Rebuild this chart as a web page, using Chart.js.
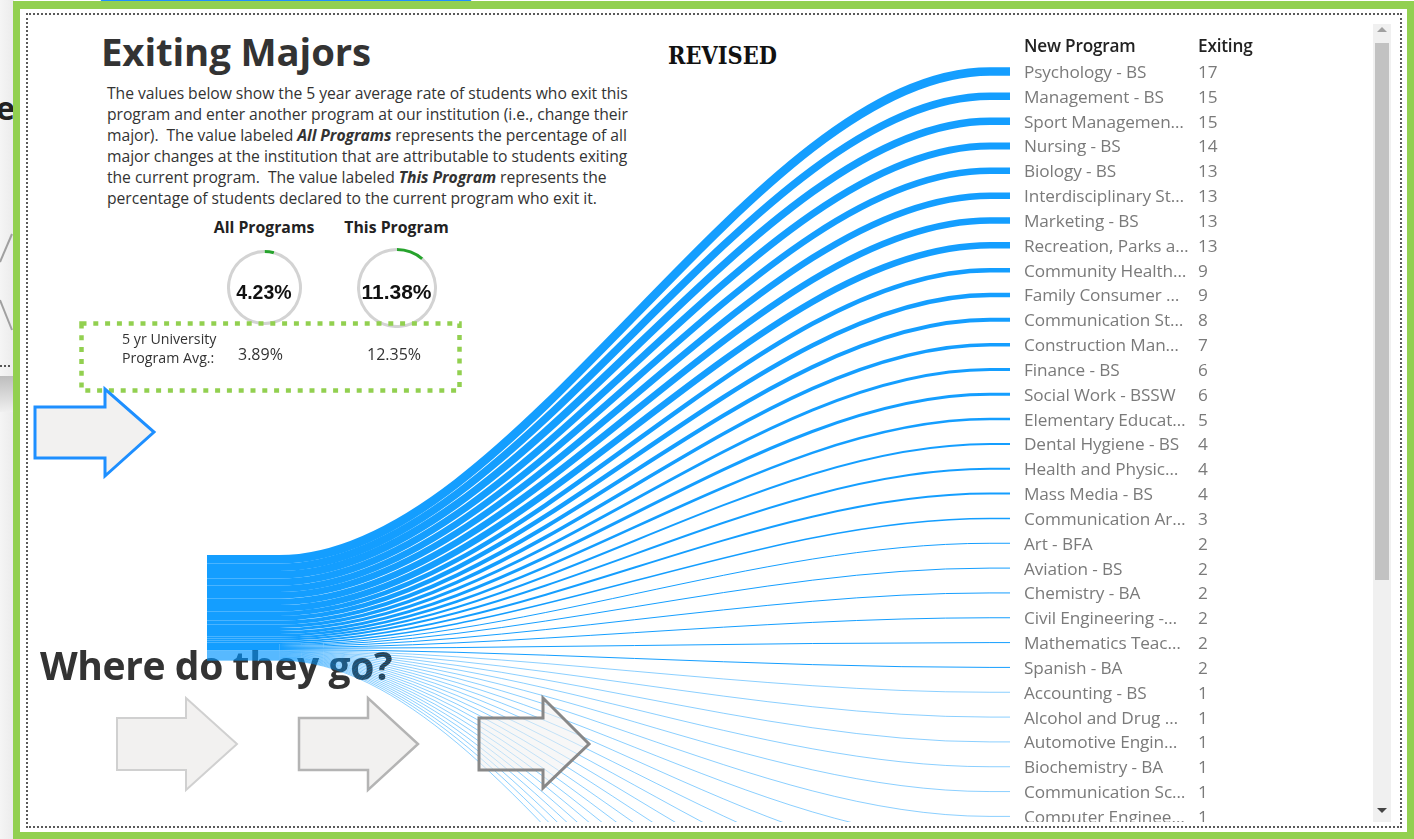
<!DOCTYPE html>
<html>
<head>
<meta charset="utf-8">
<script src="https://cdn.jsdelivr.net/npm/chart.js@4.4.1/dist/chart.umd.min.js"></script>
<style>
  html,body{margin:0;padding:0;}
  body{width:1414px;height:839px;position:relative;overflow:hidden;background:#fff;font-family:"Open Sans","Noto Sans",sans-serif;}
  .abs{position:absolute;}
  #leftStrip{left:0;top:0;width:14px;height:839px;background:linear-gradient(90deg,#f5f5f5,#ebebeb);}
  #frame{left:13px;top:1px;width:1401px;height:838px;box-sizing:border-box;border:7px solid #92d050;border-top-width:8px;}
  #inner{left:26px;top:13px;width:1376px;height:815px;box-sizing:border-box;border:2px dotted #5a5a5a;}
  #title{left:101px;top:25px;font-size:38.3px;font-weight:700;color:#333;letter-spacing:-0.1px;white-space:nowrap;}
  #para{left:107px;top:83px;font-size:15.7px;line-height:21px;color:#333;white-space:pre;letter-spacing:-0.05px;}
  #revised{left:668px;top:41px;font-family:"DejaVu Serif",serif;font-weight:900;font-size:25px;color:#111;transform-origin:0 0;transform:scaleX(0.84);letter-spacing:0px;}
  .gTitle{font-size:15.8px;font-weight:700;color:#222;white-space:nowrap;transform:translateX(-50%);}
  .gVal{font-family:"Liberation Sans",Arial,sans-serif;font-weight:700;color:#111;white-space:nowrap;transform:translate(-50%,-50%);}
  #avgLbl{left:122px;top:329px;font-size:14.2px;line-height:19px;color:#333;}
  .avgVal{font-size:16px;color:#333;}
  #where{left:40px;top:638px;font-size:39px;font-weight:700;color:#333;letter-spacing:-0.4px;white-space:nowrap;}
  #flowWrap{left:200px;top:20px;width:815px;height:802px;}
  #table{left:1020px;top:24px;width:350px;height:798px;overflow:hidden;}
  .th{font-size:17.2px;font-weight:600;color:#222;white-space:nowrap;letter-spacing:-0.2px;}
  .td{font-size:17.2px;color:#7a7a7a;white-space:nowrap;transform:translateY(-50%);letter-spacing:-0.1px;}
  #track{left:1373px;top:24px;width:18px;height:798px;background:#f0f0f0;}
  #thumb{left:1375px;top:43px;width:14px;height:537px;background:#c2c2c2;}
</style>
</head>
<body>
<div id="leftStrip" class="abs"></div>
<div class="abs" style="left:-4px;top:86px;font-size:32px;font-weight:700;color:#222;">e</div>
<svg class="abs" style="left:0;top:0" width="14" height="839">
  <polyline points="12,234 0,262" stroke="#a0a0a0" stroke-width="2" fill="none"/>
  <polyline points="0,300 12,330" stroke="#a0a0a0" stroke-width="2" fill="none"/>
  <line x1="0" y1="366" x2="10" y2="366" stroke="#555" stroke-width="2" stroke-dasharray="2 2"/>
  <defs><linearGradient id="lg" x1="0" y1="0" x2="0" y2="1"><stop offset="0" stop-color="#bdbdbd"/><stop offset="1" stop-color="#f0f0f0"/></linearGradient></defs>
  <rect x="0" y="376" width="13" height="36" fill="url(#lg)"/>
</svg>
<div class="abs" style="left:100px;top:-8px;width:372px;height:11px;border-radius:6px;background:#1e90ff;"></div>
<div id="frame" class="abs"></div>
<div id="inner" class="abs"></div>

<div id="title" class="abs">Exiting Majors</div>
<div id="para" class="abs">The values below show the 5 year average rate of students who exit this
program and enter another program at our institution (i.e., change their
major).  The value labeled <b><i>All Programs</i></b> represents the percentage of all
major changes at the institution that are attributable to students exiting
the current program.  The value labeled <b><i>This Program</i></b> represents the
percentage of students declared to the current program who exit it.</div>
<div id="revised" class="abs">REVISED</div>

<div id="gauges"></div>

<svg class="abs" style="left:0;top:0" width="1414" height="839">
  <rect x="81.5" y="323.5" width="378" height="67" fill="none" stroke="#92d050" stroke-width="4.5" stroke-dasharray="5 6.8"/>
  <polygon points="35,407 105,407 105,389 154,432 105,476 105,458 35,458" fill="#f2f1f0" stroke="#1e8fff" stroke-width="3"/>
  <polygon points="117,718 186,718 186,698 237,744 186,790 186,770 117,770" fill="#f2f1f0" stroke="#d0d0d0" stroke-width="2"/>
  <polygon points="299,718 368,718 368,698 418,744 368,790 368,770 299,770" fill="#f2f1f0" stroke="#b4b4b4" stroke-width="2.5"/>
</svg>
<div id="avgLbl" class="abs">5 yr University<br>Program Avg.:</div>
<div id="avgVals"></div>

<div id="where" class="abs">Where do they go?</div>

<div id="flowWrap" class="abs"><canvas id="flows" width="815" height="802"></canvas></div>

<svg class="abs" style="left:0;top:0" width="1414" height="839">
  <polygon points="479,718 543,718 543,698 589,744 543,788 543,770 479,770" fill="rgba(240,240,240,0.55)" stroke="#888" stroke-width="3"/>
</svg>

<div id="table" class="abs"></div>
<div id="track" class="abs"></div>
<div id="thumb" class="abs"></div>
<div class="abs" style="left:1377px;top:27px;width:0;height:0;border-left:5px solid transparent;border-right:5px solid transparent;border-bottom:5px solid #a0a0a0;"></div>
<div class="abs" style="left:1377px;top:808px;width:0;height:0;border-left:5px solid transparent;border-right:5px solid transparent;border-top:5px solid #444;"></div>

<script>
// ---------------- DATA ----------------
const programs = [
  "Psychology - BS", "Management - BS", "Sport Managemen\u2026", "Nursing - BS", "Biology - BS",
  "Interdisciplinary St\u2026", "Marketing - BS", "Recreation, Parks a\u2026", "Community Health\u2026", "Family Consumer \u2026",
  "Communication St\u2026", "Construction Man\u2026", "Finance - BS", "Social Work - BSSW", "Elementary Educat\u2026",
  "Dental Hygiene - BS", "Health and Physic\u2026", "Mass Media - BS", "Communication Ar\u2026", "Art - BFA",
  "Aviation - BS", "Chemistry - BA", "Civil Engineering -\u2026", "Mathematics Teac\u2026", "Spanish - BA",
  "Accounting - BS", "Alcohol and Drug \u2026", "Automotive Engin\u2026", "Biochemistry - BA", "Communication Sc\u2026",
  "Computer Enginee\u2026"
];
const exiting = [17,15,15,14,13,13,13,13,9,9,8,7,6,6,5,4,4,4,3,2,2,2,2,2,2,1,1,1,1,1,1];
// thin flows that run to rows scrolled below the visible table (counted from the picture, names not visible)
const belowFoldExiting = [1,1,1,1,1,1,1,1,1,1,1,1,1,1,1];
const tableHeaders = ["New Program", "Exiting"];
const gaugeLabels = ["All Programs", "This Program"];
const gaugeValues = [4.23, 11.38];
const universityAvg = [3.89, 12.35];

// ---------------- LAYOUT ----------------
const ROW0 = 71.5, ROW_H = 24.83;          // page y of first table row, row pitch
const SRC_TOP = 555, PX_PER_UNIT = 0.5;    // source block top, px of stroke per student
const CAN_TOP = 20, CAN_H = 802;
const FLAT_L = 0.09, FLAT_R = 0.025;       // horizontal runs at both ends of every link
const FLOW_COLOR = "rgba(0,150,255,0.92)";

// ---------------- TABLE ----------------
const table = document.getElementById("table");
function addText(parent, cls, txt, x, y){
  const d = document.createElement("div");
  d.className = "abs " + cls; d.textContent = txt;
  d.style.left = x + "px"; d.style.top = y + "px";
  parent.appendChild(d); return d;
}
addText(table, "th", tableHeaders[0], 4, 10);
addText(table, "th", tableHeaders[1], 178, 10);
programs.forEach((p, i) => {
  const y = ROW0 + i * ROW_H - 24.5;
  addText(table, "td", p, 4, y);
  addText(table, "td", String(exiting[i]), 178, y);
});

// ---------------- FLOWS ----------------
const allVals = exiting.concat(belowFoldExiting);
const yMin = (CAN_TOP - ROW0) / ROW_H;
const yMax = (CAN_TOP + CAN_H - ROW0) / ROW_H;
let cum = 0;
const datasets = allVals.map((v, i) => {
  const srcPx = SRC_TOP + PX_PER_UNIT * (cum + v / 2);
  cum += v;
  const ys = (srcPx - ROW0) / ROW_H;   // source position in row units
  const yt = i;                        // target row
  return {
    data: [{x:0, y:ys}, {x:FLAT_L, y:ys}, {x:1 - FLAT_R, y:yt}, {x:1, y:yt}],
    borderColor: FLOW_COLOR,
    borderWidth: v * PX_PER_UNIT,
    borderCapStyle: "butt",
    pointRadius: 0,
    fill: false,
    cubicInterpolationMode: "monotone"
  };
});
new Chart(document.getElementById("flows"), {
  type: "line",
  data: { datasets },
  options: {
    responsive: false, animation: false, events: [],
    layout: { padding: { left: 7, right: 5, top: 0, bottom: 0 } },
    scales: {
      x: { type: "linear", min: 0, max: 1, display: false },
      y: { type: "linear", min: yMin, max: yMax, reverse: true, display: false }
    },
    plugins: { legend: { display: false }, tooltip: { enabled: false } }
  }
});

// ---------------- GAUGES ----------------
const gaugeGeo = [{cx:264, cy:287.5, r:37.5, fs:19.5}, {cx:396.5, cy:288, r:40, fs:21}];
const gWrap = document.getElementById("gauges");
gaugeValues.forEach((v, i) => {
  const g = gaugeGeo[i];
  addText(gWrap, "gTitle", gaugeLabels[i], g.cx, 216);
  const c = document.createElement("canvas");
  const size = Math.round(g.r * 2);
  c.width = size; c.height = size;
  c.className = "abs";
  c.style.left = (g.cx - g.r) + "px"; c.style.top = (g.cy - g.r) + "px";
  gWrap.appendChild(c);
  new Chart(c, {
    type: "doughnut",
    data: { datasets: [{ data: [v, 100 - v], backgroundColor: ["#27a32d", "#d3d3d3"], borderWidth: 0 }] },
    options: {
      responsive: false, animation: false, events: [],
      cutout: ((g.r - 3) / g.r * 100).toFixed(1) + "%",
      plugins: { legend: { display: false }, tooltip: { enabled: false } }
    }
  });
  const val = addText(gWrap, "gVal", v.toFixed(2) + "%", g.cx, g.cy + 4);
  val.style.fontSize = g.fs + "px";
});
const avgWrap = document.getElementById("avgVals");
[238, 367].forEach((x, i) => addText(avgWrap, "avgVal", universityAvg[i].toFixed(2) + "%", x, 343));
</script>
</body>
</html>
